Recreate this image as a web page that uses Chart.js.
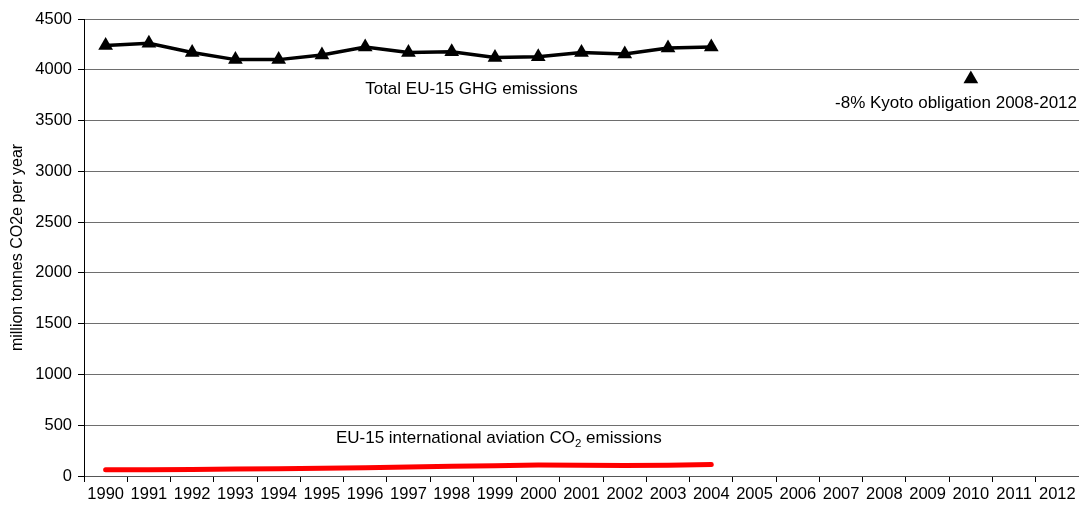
<!DOCTYPE html>
<html>
<head>
<meta charset="utf-8">
<script src="https://cdn.jsdelivr.net/npm/chart.js@4/dist/chart.umd.min.js"></script>
<style>
  html, body { margin: 0; padding: 0; background: #fff; }
  #wrap { width: 1079px; height: 508px; }
</style>
</head>
<body>
<div id="wrap"><canvas id="chart" width="1079" height="508"></canvas></div>
<script>
// years on the x axis
const years = ['1990', '1991', '1992', '1993', '1994', '1995', '1996', '1997', '1998', '1999', '2000',
  '2001', '2002', '2003', '2004', '2005', '2006', '2007', '2008', '2009', '2010', '2011', '2012'];

// Total EU-15 GHG emissions, 1990-2004 (million t CO2e)
const ghgTotal = [4240, 4260, 4170, 4100, 4100, 4145, 4225, 4170, 4178, 4120, 4128, 4170, 4155, 4215, 4225];

// EU-15 international aviation CO2, 1990-2004
const aviationCO2 = [62, 62, 65, 68, 72, 77, 82, 88, 95, 102, 108, 105, 103, 107, 114];

// Kyoto target point
const kyotoYear = '2010';
const kyotoValue = 3910;

const yTicks = [0, 500, 1000, 1500, 2000, 2500, 3000, 3500, 4000, 4500];

const FONT = 'Liberation Sans, Arial, sans-serif';

// text labels next to the series
const labelPlugin = {
  id: 'seriesLabels',
  afterDatasetsDraw(chart) {
    const { ctx, scales: { x, y }, chartArea } = chart;
    ctx.save();
    ctx.fillStyle = '#000';
    ctx.textBaseline = 'middle';
    ctx.font = '17px ' + FONT;

    ctx.textAlign = 'left';
    ctx.fillText('Total EU-15 GHG emissions', x.getPixelForValue(6), y.getPixelForValue(3810));

    ctx.textAlign = 'right';
    ctx.fillText('-8% Kyoto obligation 2008-2012', chartArea.right - 2, y.getPixelForValue(3670));

    // aviation label with subscript 2
    ctx.textAlign = 'left';
    let px = x.getPixelForValue(5) + 14;
    const py = y.getPixelForValue(370);
    const a = 'EU-15 international aviation CO';
    ctx.fillText(a, px, py);
    px += ctx.measureText(a).width;
    ctx.font = '11.5px ' + FONT;
    ctx.fillText('2', px, py + 5);
    px += ctx.measureText('2').width;
    ctx.font = '17px ' + FONT;
    ctx.fillText(' emissions', px, py);
    ctx.restore();
  }
};

new Chart(document.getElementById('chart'), {
  type: 'line',
  data: {
    labels: years,
    datasets: [
      {
        label: 'Total EU-15 GHG emissions',
        data: ghgTotal,
        borderColor: '#000',
        backgroundColor: '#000',
        borderWidth: 3.5,
        pointStyle: 'triangle',
        pointRadius: 8.5,
        pointBorderWidth: 0,
        tension: 0
      },
      {
        label: 'EU-15 international aviation CO2 emissions',
        data: aviationCO2,
        borderColor: '#ff0000',
        borderWidth: 5,
        borderCapStyle: 'round',
        pointRadius: 0,
        tension: 0
      },
      {
        label: '-8% Kyoto obligation 2008-2012',
        data: [{ x: kyotoYear, y: kyotoValue }],
        borderColor: '#000',
        backgroundColor: '#000',
        showLine: false,
        pointStyle: 'triangle',
        pointRadius: 8.5,
        pointBorderWidth: 0
      }
    ]
  },
  options: {
    responsive: false,
    animation: false,
    layout: { autoPadding: false, padding: { top: 19, right: 0, left: 0, bottom: 0 } },
    plugins: {
      legend: { display: false },
      tooltip: { enabled: false }
    },
    scales: {
      x: {
        offset: true,
        grid: {
          offset: true,
          drawOnChartArea: false,
          drawTicks: true,
          tickLength: 6,
          color: '#000'
        },
        border: { color: '#555', width: 1 },
        ticks: {
          color: '#000',
          font: { family: FONT, size: 16.5 },
          padding: 3,
          maxRotation: 0,
          autoSkip: false
        },
        afterFit: s => { s.height = 32; s.paddingRight = 0; s.paddingLeft = 0; }
      },
      y: {
        min: 0,
        max: 4500,
        afterBuildTicks: s => { s.ticks = yTicks.map(v => ({ value: v })); },
        grid: {
          color: '#6e6e6e',
          lineWidth: 1,
          drawTicks: true,
          tickLength: 6,
          tickColor: '#000'
        },
        border: { color: '#000', width: 1 },
        ticks: {
          color: '#000',
          font: { family: FONT, size: 16.5 },
          padding: 6,
          callback: v => String(v)
        },
        title: {
          display: true,
          text: 'million tonnes CO2e per year',
          color: '#000',
          font: { family: FONT, size: 16 },
          padding: { top: 8, bottom: 0 }
        },
        afterFit: s => { s.width = 84; }
      }
    }
  },
  plugins: [labelPlugin]
});
</script>
</body>
</html>
